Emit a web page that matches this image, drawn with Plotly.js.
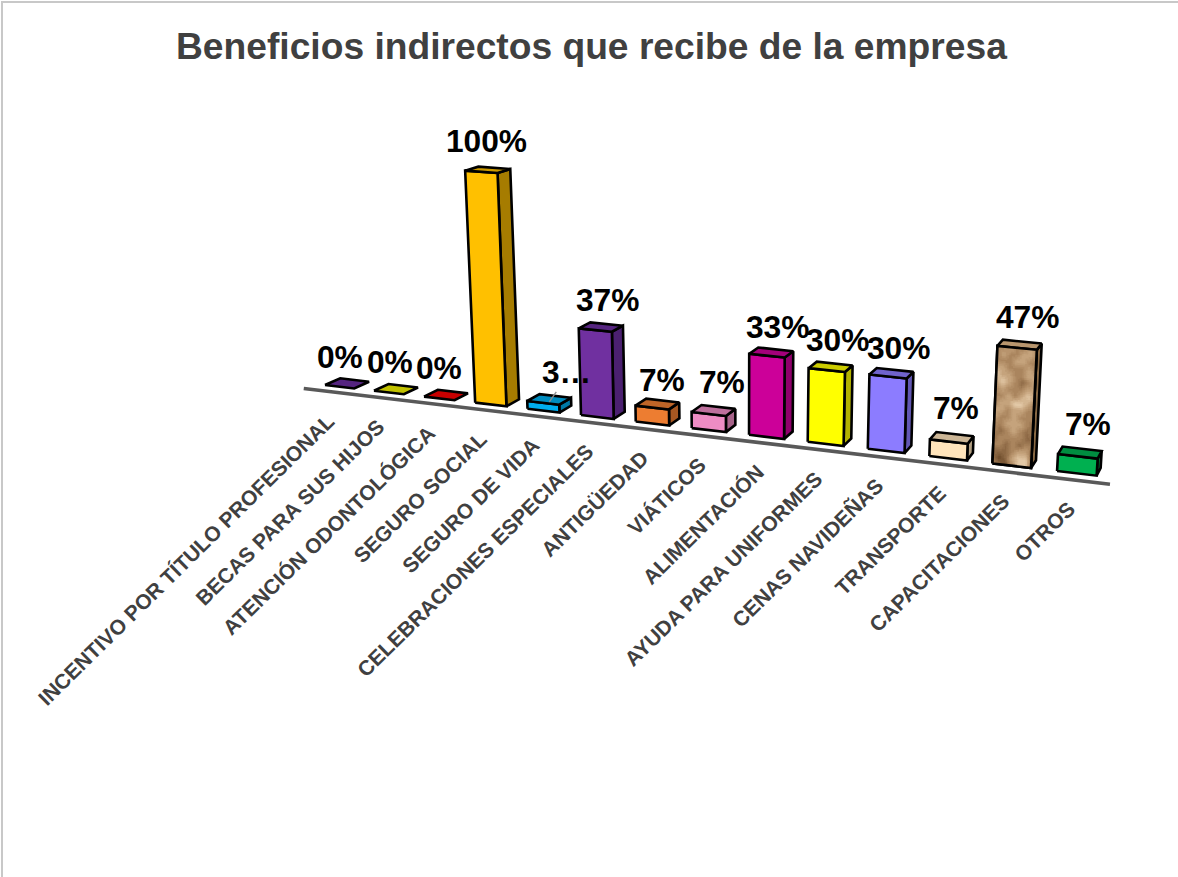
<!DOCTYPE html>
<html>
<head>
<meta charset="utf-8">
<script src="https://cdn.plot.ly/plotly-3.0.1.min.js"></script>
<style>html,body{margin:0;padding:0;background:#fff}</style>
</head>
<body>
<div id="chart" style="width:1178px;height:877px"></div>
<script>
const categories = ["INCENTIVO POR TÍTULO PROFESIONAL","BECAS PARA SUS HIJOS","ATENCIÓN ODONTOLÓGICA","SEGURO SOCIAL","SEGURO DE VIDA","CELEBRACIONES ESPECIALES","ANTIGÜEDAD","VIÁTICOS","ALIMENTACIÓN","AYUDA PARA UNIFORMES","CENAS NAVIDEÑAS","TRANSPORTE","CAPACITACIONES","OTROS"];
const values = [0,0,0,100,3.33,36.67,6.67,6.67,33.33,30,30,6.67,46.67,6.67];
const valueLabels = ["0%","0%","0%","100%","3…","37%","7%","7%","33%","30%","30%","7%","47%","7%"];
const frontColors = ["#7030A0","#CCCC00","#E00000","#FFC000","#00AEEF","#7030A0","#ED7D31","#EE8CC4","#CC0099","#FFFF00","#8C7CFF","#FFE4BB","#B08C63","#00B050"];
const topColors = ["#552480","#C2C200","#C80000","#CC9A00","#008CBF","#562580","#BE6427","#BE709D","#A3007A","#CCCC00","#7063CC","#CCB696","#B8966E","#008D40"];
const sideColors = ["#552480","#A3A300","#A80000","#A67C00","#0079A6","#4B2070","#A65722","#A66289","#8F006B","#B3B300","#6257B3","#B3A083","#8A6A45","#007B38"];
const textureTones = [[105,72,40],[140,104,68],[170,133,94],[197,163,124],[226,200,166]];
const textureRows = [
 [2,2,3,2,2,3,2],[2,3,2,2,3,3,2],[2,2,2,3,3,2,2],[3,3,2,2,2,3,2],[4,3,3,2,2,3,3],[3,4,3,2,1,2,3],
 [2,3,2,2,2,3,3],[2,2,3,2,3,4,3],[2,3,3,4,4,3,2],[3,3,2,3,3,2,2],[3,2,2,3,2,2,2],[2,2,3,3,3,2,1],
 [2,1,2,3,2,1,2],[1,2,2,2,2,1,1],[2,2,1,2,1,2,2],[1,1,1,2,3,3,1],[1,0,1,3,4,4,1],[2,1,0,2,4,4,1]];
const texturedIndex = 12;
// label placement corrections, px
const labelNudgeX = [-15,-13,-14,-8,-7.5,1,-1,4,2,3,3,1,5,6];
const labelNudgeY = [-2,-3,-3,-2,-2,1,4,0,3,1,3,-1,0,0];

// projection of the tilted 3-D scene onto the page
const barWidth = 0.6;
const baseX = u => (44.96*u + 325) / (1 - 0.01074*u);
const baseY = x => 385 + 0.1175*(x - 325);
const unitHeight = u => 2.32 + 0.022*(u - 3);
const VP = [737, 6458];
function project(u, v) {
  const xb = baseX(u), yb = baseY(xb), y = yb - v*unitHeight(u);
  return [VP[0] + (xb - VP[0])*(VP[1] - y)/(VP[1] - yb), y];
}
const back = p => [p[0] + 15 - 0.0145*(p[0] - 340), p[1] - (4 + (p[1] - 170)*0.0125)];

function poly(pts, fill) {
  const xs = pts.map(p => p[0]), ys = pts.map(p => p[1]);
  xs.push(xs[0]); ys.push(ys[0]);
  return {type:"scatter", mode:"lines", x:xs, y:ys, fill:"toself", fillcolor:fill,
    line:{color:"#000", width:2.6}, hoverinfo:"skip", showlegend:false};
}

const traces = [];
const annotations = [];

// axis line
const ax0 = baseX(-0.44), ax1 = baseX(13.8);
traces.push({type:"scatter", mode:"lines", x:[ax0,ax1], y:[baseY(ax0)+6, baseY(ax1)+7],
  line:{color:"#595959", width:3.6}, hoverinfo:"skip", showlegend:false});

values.forEach((v, i) => {
  const bl = project(i,0), br = project(i+barWidth,0), tl = project(i,v), tr = project(i+barWidth,v);
  if (v > 0) {
    traces.push(poly([br, back(br), back(tr), tr], sideColors[i]));
    traces.push(poly([bl, br, tr, tl], frontColors[i]));
  }
  traces.push(poly([tl, tr, back(tr), back(tl)], topColors[i]));

  if (i === texturedIndex) {
    const rows = textureRows.length, cols = textureRows[0].length;
    const shades = 16, gx = 24, gy = 66;
    const groups = Array.from({length:shades+1}, () => ({x:[], y:[]}));
    const at = (a, b) => {
      const l = [bl[0]+(tl[0]-bl[0])*b, bl[1]+(tl[1]-bl[1])*b];
      const r = [br[0]+(tr[0]-br[0])*b, br[1]+(tr[1]-br[1])*b];
      return [l[0]+(r[0]-l[0])*a, l[1]+(r[1]-l[1])*a];
    };
    const toneAt = (a, t) => {
      const cf = a*(cols-1), rf = t*(rows-1);
      const c0 = Math.floor(cf), r0 = Math.floor(rf), c1 = Math.min(cols-1,c0+1), r1 = Math.min(rows-1,r0+1);
      const fc = cf-c0, fr = rf-r0;
      return (textureRows[r0][c0]*(1-fc)+textureRows[r0][c1]*fc)*(1-fr) + (textureRows[r1][c0]*(1-fc)+textureRows[r1][c1]*fc)*fr;
    };
    const shadeColor = s => {
      const t = s/shades*(textureTones.length-1), k = Math.min(textureTones.length-2, Math.floor(t)), f = t-k;
      const c = textureTones[k].map((val, n) => Math.round(val + (textureTones[k+1][n]-val)*f));
      return `rgb(${c[0]},${c[1]},${c[2]})`;
    };
    for (let r = 0; r < gy; r++) for (let c = 0; c < gx; c++) {
      const s = Math.round(toneAt((c+.5)/gx, (r+.5)/gy)/(textureTones.length-1)*shades);
      const a0 = c/gx, a1 = Math.min(1,(c+1.4)/gx), b1 = 1-r/gy, b0 = Math.max(0,1-(r+1.4)/gy);
      const q = [at(a0,b0), at(a1,b0), at(a1,b1), at(a0,b1), at(a0,b0)];
      q.forEach(p => { groups[s].x.push(p[0]); groups[s].y.push(p[1]); });
      groups[s].x.push(null); groups[s].y.push(null);
    }
    groups.forEach((g, s) => { if (g.x.length) traces.push({type:"scatter", mode:"lines", x:g.x, y:g.y, fill:"toself",
      fillcolor:shadeColor(s), line:{width:0, color:shadeColor(s)}, hoverinfo:"skip", showlegend:false}); });
    traces.push(poly([bl, br, tr, tl], "rgba(0,0,0,0)"));
  }

  // value label above the centre of the bar's top
  const tc = back([(tl[0]+tr[0])/2, (tl[1]+tr[1])/2]);
  const small = valueLabels[i] === "3…";
  annotations.push({x: tc[0] + (small ? 19 : 0) + labelNudgeX[i], y: tc[1] - (small ? 22 : (v>0 ? 25 : 21)) + labelNudgeY[i],
    text: valueLabels[i], showarrow:false, xanchor:"center", yanchor:"middle",
    font:{family:"Liberation Sans, Arial, sans-serif", size:31.7, color:"#000", weight:700}, borderpad:0});
  if (small) {
    traces.push({type:"scatter", mode:"lines", x:[tc[0]+1, tc[0]-6], y:[tc[1]-4, tc[1]+6],
      line:{color:"#8c8c8c", width:1.3}, hoverinfo:"skip", showlegend:false});
  }

  // category label
  const lx = baseX(i+barWidth/2) + 0.5 + 0.25*i;
  annotations.push({x:lx, y:baseY(lx)+21.5, text:categories[i], textangle:-44.5, showarrow:false,
    xanchor:"right", yanchor:"top", borderpad:0,
    font:{family:"Liberation Sans, Arial, sans-serif", size:21, color:"#404040", weight:700}});
});

annotations.push({x:591, y:46, text:"Beneficios indirectos que recibe de la empresa", showarrow:false,
  xanchor:"center", yanchor:"middle", borderpad:0,
  font:{family:"Liberation Sans, Arial, sans-serif", size:37.2, color:"#404040", weight:700}});

const layout = {
  width:1178, height:877, autosize:false,
  margin:{l:0,r:0,t:0,b:0}, paper_bgcolor:"#fff", plot_bgcolor:"#fff",
  xaxis:{range:[0,1178], visible:false, fixedrange:true},
  yaxis:{range:[877,0], visible:false, fixedrange:true},
  showlegend:false, annotations,
  shapes:[{type:"rect", xref:"x", yref:"y", x0:2, y0:2, x1:1400, y1:1200, line:{color:"#C8C8C8", width:2}, fillcolor:"rgba(0,0,0,0)", layer:"below"}]
};
Plotly.newPlot("chart", traces, layout, {displayModeBar:false, staticPlot:true});
</script>
</body>
</html>
